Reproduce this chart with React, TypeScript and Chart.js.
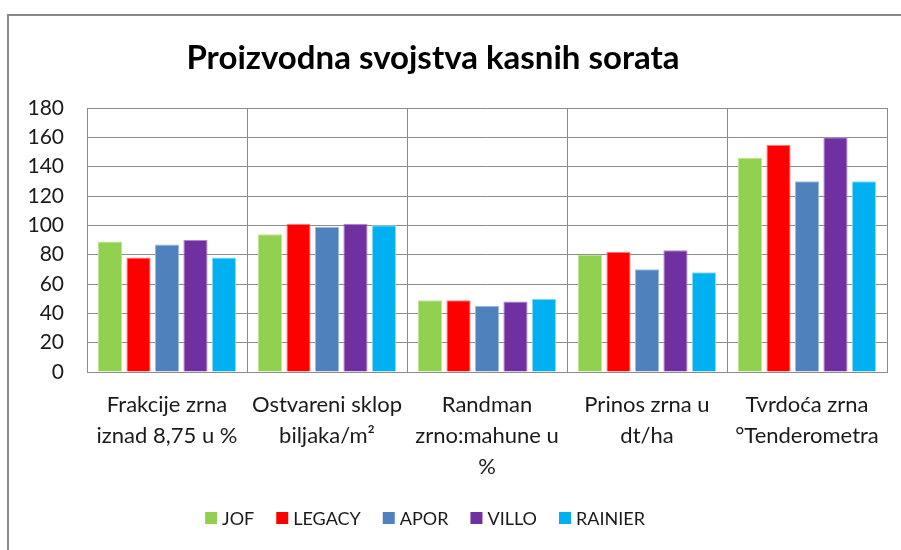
import React, { useEffect, useRef } from "react";
import { Chart, registerables } from "chart.js";

Chart.register(...registerables);

const TITLE = "Proizvodna svojstva kasnih sorata";
const categories: string[][] = [
  ["Frakcije zrna", "iznad 8,75 u %"],
  ["Ostvareni sklop", "biljaka/m²"],
  ["Randman", "zrno:mahune u", "%"],
  ["Prinos zrna u", "dt/ha"],
  ["Tvrdoća zrna", "°Tenderometra"],
];
const seriesNames = ["JOF", "LEGACY", "APOR", "VILLO", "RAINIER"];
const seriesColors = ["#92D050", "#FF0000", "#4F81BD", "#7030A0", "#00B0F0"];
const seriesEdgeColors = ["#BDE394", "#FF8080", "#9DB8DC", "#AE85CA", "#8CDAF8"];
const jof = [89, 94, 49, 80, 146];
const legacy = [78, 101, 49, 82, 155];
const apor = [87, 99, 45, 70, 130];
const villo = [90, 101, 48, 83, 160];
const rainier = [78, 100, 50, 68, 130];
const seriesValues = [jof, legacy, apor, villo, rainier];
const yMin = 0;
const yMax = 180;
const yStep = 20;

const FONT = "Lato";
const TEXT = "#1a1a1a";

// Chart frame, title and legend (Excel-like placement: centred on the chart object, not the canvas)
const framePlugin = {
  id: "frameTitleLegend",
  beforeDraw(chart: any) {
    const ctx = chart.ctx;
    ctx.save();
    ctx.fillStyle = "#ffffff";
    ctx.fillRect(0, 0, chart.width, chart.height);
    ctx.strokeStyle = "#8a8a8a";
    ctx.lineWidth = 2;
    ctx.beginPath();
    ctx.moveTo(8, chart.height + 5);
    ctx.lineTo(8, 15);
    ctx.lineTo(chart.width + 5, 15);
    ctx.stroke();
    ctx.restore();
  },
  afterDraw(chart: any) {
    const ctx = chart.ctx;
    ctx.save();
    ctx.font = `bold 33px ${FONT}`;
    ctx.fillStyle = "#000000";
    ctx.textAlign = "center";
    ctx.textBaseline = "middle";
    ctx.fillText(TITLE, 433, 58);

    // legend
    const datasets = chart.data.datasets;
    ctx.font = `18px ${FONT}`;
    const box = 12;
    const gapBoxText = 5;
    const gapItems = 22;
    const widths = datasets.map((d: any) => box + gapBoxText + ctx.measureText(d.label).width);
    const total = widths.reduce((a: number, b: number) => a + b, 0) + gapItems * (datasets.length - 1);
    let x = 425 - total / 2;
    const cy = 518;
    ctx.textAlign = "left";
    ctx.textBaseline = "middle";
    datasets.forEach((d: any, i: number) => {
      ctx.fillStyle = d.backgroundColor;
      ctx.fillRect(x, cy - box / 2, box, box);
      ctx.fillStyle = TEXT;
      ctx.fillText(d.label, x + box + gapBoxText, cy + 1);
      x += widths[i] + gapItems;
    });
    ctx.restore();
  },
};

export default function App() {
  const ref = useRef<HTMLCanvasElement | null>(null);
  useEffect(() => {
    if (!ref.current) return;
    const chart = new Chart(ref.current, {
      type: "bar",
      data: {
        labels: categories,
        datasets: seriesNames.map((name, i) => ({
          label: name,
          data: seriesValues[i],
          backgroundColor: seriesColors[i],
          borderColor: seriesEdgeColors[i],
          borderWidth: 1,
          categoryPercentage: 0.89,
          barPercentage: 0.85,
        })),
      },
      plugins: [framePlugin],
      options: {
        animation: false,
        responsive: true,
        maintainAspectRatio: false,
        layout: { padding: { top: 108, right: 14, bottom: 66, left: 0 } },
        plugins: {
          title: { display: false },
          tooltip: { enabled: false },
          legend: { display: false },
        },
        scales: {
          x: {
            afterFit: (scale: any) => {
              scale.height = 112;
            },
            grid: { offset: true, color: "#8c8c8c", drawTicks: false },
            border: { color: "#8c8c8c" },
            ticks: {
              maxRotation: 0,
              autoSkip: false,
              padding: 17,
              color: TEXT,
              font: { family: FONT, size: 22, lineHeight: 1.42 },
            },
          },
          y: {
            min: yMin,
            max: yMax,
            afterFit: (scale: any) => {
              scale.width = 87;
            },
            grid: { color: "#8c8c8c", drawTicks: false },
            border: { color: "#8c8c8c" },
            ticks: {
              stepSize: yStep,
              padding: 23,
              color: TEXT,
              font: { family: FONT, size: 21 },
            },
          },
        },
      },
    });
    return () => chart.destroy();
  }, []);
  return (
    <div style={{ position: "fixed", left: 0, top: 0, width: 901, height: 550, background: "#fff" }}>
      <canvas ref={ref} />
    </div>
  );
}
